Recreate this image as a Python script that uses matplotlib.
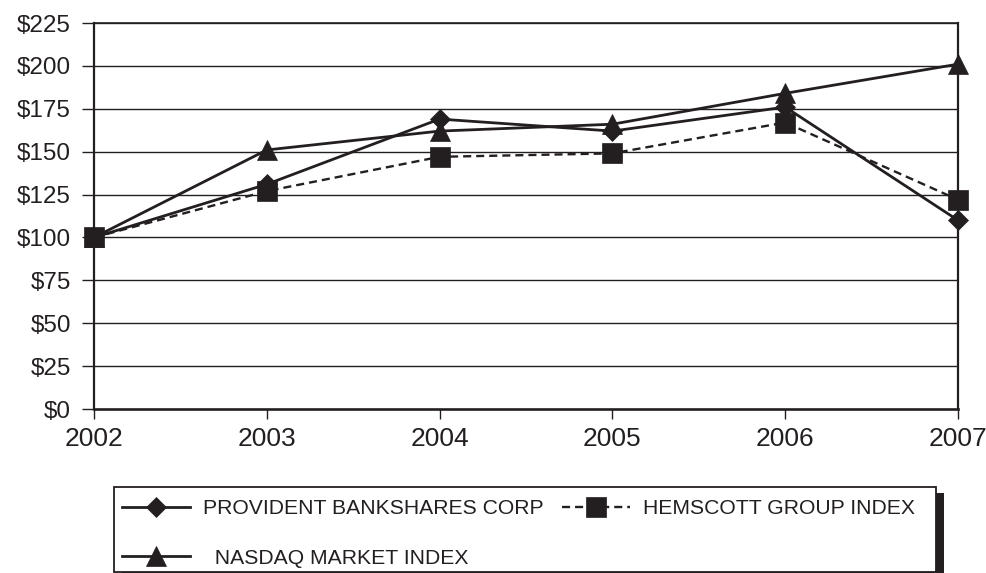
import matplotlib
matplotlib.use("Agg")
import matplotlib.pyplot as plt
from matplotlib.patches import Rectangle

years = [2002, 2003, 2004, 2005, 2006, 2007]
provident = [100, 131, 169, 162, 176, 110]
hemscott = [100, 127, 147, 149, 167, 122]
nasdaq = [100, 151, 162, 166, 184, 201]
yticks = [0, 25, 50, 75, 100, 125, 150, 175, 200, 225]
ytick_labels = ["$" + str(v) for v in yticks]
labels = ["PROVIDENT BANKSHARES CORP", "HEMSCOTT GROUP INDEX", "  NASDAQ MARKET INDEX"]

INK = "#231f20"
plt.rcParams["font.family"] = ["Liberation Sans", "DejaVu Sans"]
plt.rcParams["lines.scale_dashes"] = False

W, H = 987, 573
fig = plt.figure(figsize=(W / 100, H / 100), dpi=100)
ax = fig.add_axes([94 / W, 1 - 409 / H, (958 - 94) / W, (409 - 23) / H])

for y in yticks[1:]:
    ax.axhline(y, color=INK, lw=1.0, zorder=1)

lp, = ax.plot(years, provident, color=INK, lw=2.0, marker="D", ms=10.5,
              mec=INK, mfc=INK, mew=0.5, zorder=4, clip_on=False)
lh, = ax.plot(years, hemscott, color=INK, lw=1.7, ls=(0, (5.8, 3.6)), marker="s", ms=14.0,
              mec=INK, mfc=INK, mew=0.5, zorder=3, clip_on=False)
ln, = ax.plot(years, nasdaq, color=INK, lw=2.0, marker="^", ms=14.0,
              mec=INK, mfc=INK, mew=0.5, zorder=3.5, clip_on=False)

ax.set_xlim(2002, 2007)
ax.set_ylim(0, 225)
ax.set_xticks(years)
ax.set_xticklabels([str(y) for y in years], fontsize=19, color=INK)
ax.set_yticks(yticks)
ax.set_yticklabels(ytick_labels, fontsize=17.5, color=INK)
ax.tick_params(axis="y", direction="out", length=8.6, width=1.0, pad=8.0, color=INK)
ax.tick_params(axis="x", direction="out", length=7.0, width=1.0, pad=6.0, color=INK)
for s in ["left", "right"]:
    ax.spines[s].set_linewidth(1.6)
    ax.spines[s].set_color(INK)
ax.spines["bottom"].set_linewidth(1.9)
ax.spines["bottom"].set_color(INK)
ax.spines["top"].set_linewidth(1.2)
ax.spines["top"].set_color(INK)
for s in ax.spines.values():
    s.set_zorder(2)

# legend frame with shadow
fig.add_artist(Rectangle((122 / W, (H - 581) / H), (944 - 122) / W, (581 - 493) / H,
                         transform=fig.transFigure, facecolor=INK, edgecolor="none", zorder=5))
fig.add_artist(Rectangle((114 / W, (H - 572) / H), (936 - 114) / W, (572 - 487) / H,
                         transform=fig.transFigure, facecolor="white", edgecolor=INK,
                         lw=1.3, zorder=6))

leg = fig.legend([lp, ln, lh], [labels[0], labels[2], labels[1]], ncol=2,
                 loc="upper left", bbox_to_anchor=(122 / W, 1 - 499 / H),
                 frameon=False, borderpad=0, fontsize=15.2, handlelength=3.2,
                 handletextpad=0.62, columnspacing=0.9, labelspacing=1.45,
                 numpoints=1, borderaxespad=0)
leg.set_zorder(7)
for t in leg.get_texts():
    t.set_color(INK)

fig.savefig("out.png", dpi=100)
